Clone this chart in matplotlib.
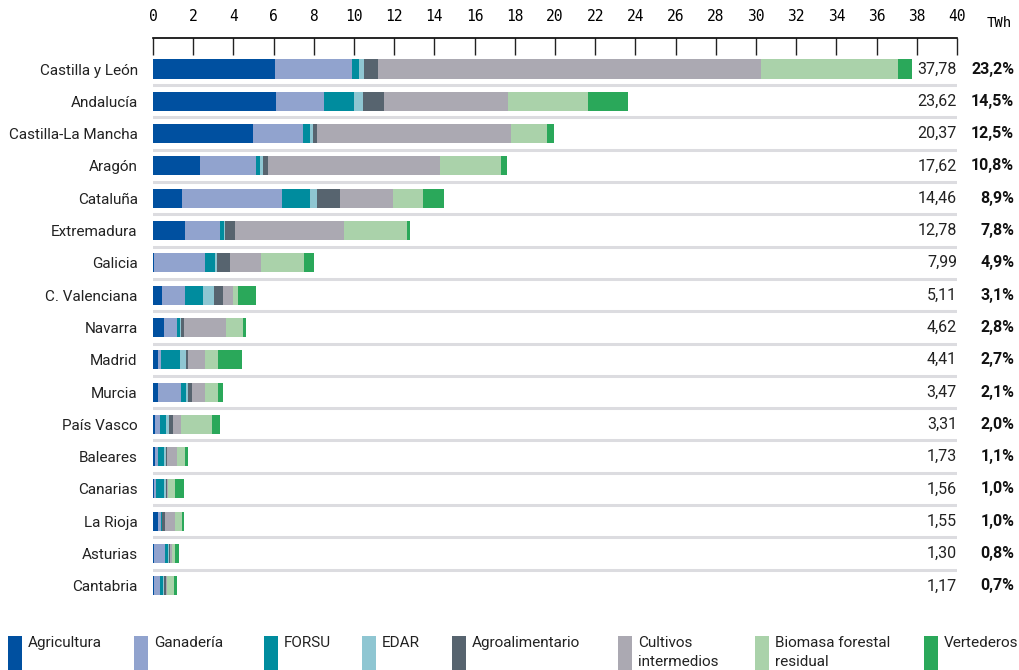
import numpy as np
import matplotlib.pyplot as plt
from matplotlib.patches import Rectangle

# Regiones y valores (TWh) por tipo de recurso
regiones = ['Castilla y León', 'Andalucía', 'Castilla-La Mancha', 'Aragón', 'Cataluña',
            'Extremadura', 'Galicia', 'C. Valenciana', 'Navarra', 'Madrid', 'Murcia',
            'País Vasco', 'Baleares', 'Canarias', 'La Rioja', 'Asturias', 'Cantabria']

agricultura = [6.07, 6.12, 4.98, 2.36, 1.46, 1.61, 0.05, 0.46, 0.56, 0.26, 0.23, 0.12, 0.12, 0.05, 0.23, 0.05, 0.05]
ganaderia = [3.83, 2.39, 2.48, 2.74, 4.98, 1.74, 2.56, 1.15, 0.65, 0.15, 1.18, 0.24, 0.14, 0.10, 0.18, 0.56, 0.31]
forsu = [0.35, 1.49, 0.35, 0.20, 1.35, 0.20, 0.45, 0.90, 0.15, 0.95, 0.25, 0.30, 0.30, 0.41, 0.03, 0.15, 0.15]
edar = [0.25, 0.45, 0.15, 0.15, 0.39, 0.05, 0.10, 0.50, 0.05, 0.30, 0.10, 0.15, 0.10, 0.10, 0.02, 0.05, 0.05]
agroalimentario = [0.69, 1.04, 0.20, 0.29, 1.10, 0.50, 0.65, 0.45, 0.15, 0.10, 0.20, 0.20, 0.02, 0.05, 0.15, 0.03, 0.10]
cultivos = [19.06, 6.17, 9.65, 8.56, 2.68, 5.42, 1.54, 0.54, 2.09, 0.85, 0.65, 0.40, 0.53, 0.05, 0.50, 0.12, 0.02]
biomasa = [6.81, 3.98, 1.79, 2.99, 1.49, 3.14, 2.14, 0.25, 0.84, 0.60, 0.60, 1.55, 0.40, 0.35, 0.35, 0.15, 0.35]
vertederos = [0.72, 1.98, 0.35, 0.34, 1.01, 0.12, 0.50, 0.86, 0.13, 1.20, 0.26, 0.35, 0.12, 0.45, 0.09, 0.19, 0.14]

totales = ['37,78', '23,62', '20,37', '17,62', '14,46', '12,78', '7,99', '5,11', '4,62',
           '4,41', '3,47', '3,31', '1,73', '1,56', '1,55', '1,30', '1,17']
porcentajes = ['23,2%', '14,5%', '12,5%', '10,8%', '8,9%', '7,8%', '4,9%', '3,1%', '2,8%',
               '2,7%', '2,1%', '2,0%', '1,1%', '1,0%', '1,0%', '0,8%', '0,7%']

series = ['Agricultura', 'Ganadería', 'FORSU', 'EDAR', 'Agroalimentario',
          'Cultivos\nintermedios', 'Biomasa forestal\nresidual', 'Vertederos']
datos = [agricultura, ganaderia, forsu, edar, agroalimentario, cultivos, biomasa, vertederos]
colores = ['#0050a0', '#91a3ce', '#008c9e', '#8fc6d2', '#57646f', '#aba9b2', '#aad2aa', '#2aa85a']

plt.rcParams['font.family'] = ['Roboto', 'DejaVu Sans']

fig = plt.figure(figsize=(10.2, 6.7), dpi=100)
ax = fig.add_axes([153 / 1020, 1 - 602 / 670, 804 / 1020, 564 / 670])

y = np.arange(len(regiones))
left = np.zeros(len(regiones))
for vals, col in zip(datos, colores):
    vals = np.array(vals)
    ax.barh(y, vals, left=left, height=0.59, color=col, linewidth=0)
    left += vals

# separadores entre filas
for i in range(len(regiones) - 1):
    ax.axhline(i + 0.5, color='#dcdce0', linewidth=2.2, zorder=0)

ax.set_xlim(0, 40)
ax.set_ylim(16.5, -0.96)
ax.set_yticks(y)
ax.set_yticklabels(regiones, fontsize=11, color='#222222')
ax.tick_params(axis='y', length=0, pad=11)

ax.xaxis.tick_top()
ax.set_xticks(np.arange(0, 41, 2))
ax.set_xticklabels([str(v) for v in range(0, 41, 2)], family='DejaVu Sans Mono', fontsize=10.5)
ax.tick_params(axis='x', direction='in', length=12, width=1, color='#222222', pad=10)

for s in ['right', 'bottom', 'left']:
    ax.spines[s].set_visible(False)
ax.spines['top'].set_linewidth(1.2)

ax.text(1.053, 1.0 + 15 / 564, 'TWh', transform=ax.transAxes, ha='center', va='center',
        fontsize=10, family='DejaVu Sans Mono')

for i in range(len(regiones)):
    ax.text(40.0, i, totales[i], ha='right', va='center', fontsize=11.5, color='#222222')
    ax.text(42.85, i, porcentajes[i], ha='right', va='center', fontsize=11.5,
            fontweight='bold', color='#111111', clip_on=False)

# leyenda
leg_x = [8, 134, 264, 362, 452, 618, 755, 924]
for lx, nombre, col in zip(leg_x, series, colores):
    fig.patches.append(Rectangle((lx / 1020, 0), 14 / 1020, 34 / 670,
                                 transform=fig.transFigure, color=col, linewidth=0))
    fig.text((lx + 20) / 1020, 1 - 636 / 670, nombre, ha='left', va='top',
             fontsize=11, color='#222222', linespacing=1.45)

fig.savefig('out.png', dpi=100)
